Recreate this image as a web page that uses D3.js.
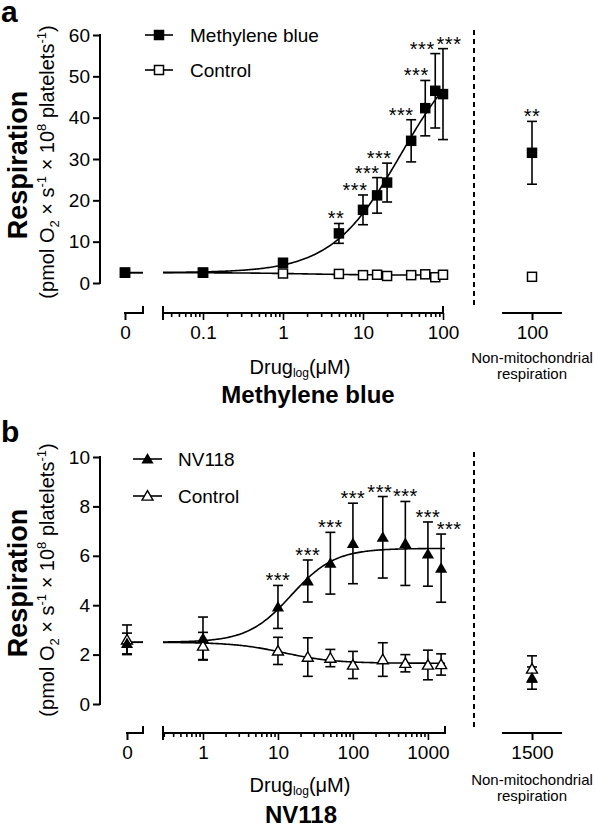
<!DOCTYPE html>
<html><head><meta charset="utf-8">
<script src="https://cdn.jsdelivr.net/npm/d3@7/dist/d3.min.js"></script>
<style>
body{margin:0;background:#fff}
svg{display:block}
text{font-family:"Liberation Sans",Arial,Helvetica,sans-serif;fill:#000}
</style>
</head><body><svg id="c" width="595" height="827"></svg>
<script>
// ---------------- DATA: panel a (Methylene blue) ----------------
const mbConc      = [0, 0.1, 1, 5, 10, 15, 20, 40, 60, 80, 100];
const mbMean      = [2.5, 2.5, 4.9, 12.0, 17.7, 21.2, 24.3, 34.4, 42.3, 46.5, 45.7];
const mbSem       = [0.4, 0.4, 0.6, 2.4, 3.6, 4.3, 4.7, 5.1, 6.7, 9.0, 11.0];
const mbStars     = ["", "", "", "**", "***", "***", "***", "***", "***", "***", "***"];
const mbCtrlMean  = [2.5, 2.5, 2.3, 2.2, 1.9, 2.0, 1.7, 1.9, 2.1, 1.4, 2.0];
const mbCtrlSem   = [0.3, 0.3, 0.3, 0.3, 0.3, 0.3, 0.3, 0.3, 0.3, 0.3, 0.3];
const mbNonMitoCat   = ["100"];
const mbNonMito      = [31.5];
const mbNonMitoSem   = [7.6];
const mbNonMitoStars = ["**"];
const mbNonMitoCtrl    = [1.5];
const mbNonMitoCtrlSem = [0.3];
const mbYTicks = [0, 10, 20, 30, 40, 50, 60];
const mbXTicks = [0.1, 1, 10, 100];
const mbFit     = [2.5, 60, 30, 1];     // low plateau, high plateau, EC50, Hill
const mbCtrlFit = [2.5, 1.9, 2, 1];

// ---------------- DATA: panel b (NV118) ----------------
const nvConc     = [0, 1, 10, 25, 50, 100, 250, 500, 1000, 1500];
const nvMean     = [2.45, 2.65, 3.93, 4.98, 5.7, 6.5, 6.75, 6.5, 6.07, 5.5];
const nvSem      = [0.42, 0.87, 0.87, 0.85, 1.25, 1.63, 1.65, 1.7, 1.3, 1.38];
const nvStars    = ["", "", "***", "***", "***", "***", "***", "***", "***", "***"];
const nvCtrlMean = [2.6, 2.35, 2.15, 1.9, 1.86, 1.58, 1.8, 1.65, 1.58, 1.6];
const nvCtrlSem  = [0.6, 0.55, 0.55, 0.78, 0.35, 0.55, 0.68, 0.35, 0.6, 0.43];
const nvNonMitoCat   = ["1500"];
const nvNonMito      = [1.05];
const nvNonMitoSem   = [0.45];
const nvNonMitoStars = [""];
const nvNonMitoCtrl    = [1.42];
const nvNonMitoCtrlSem = [0.53];
const nvYTicks = [0, 2, 4, 6, 8, 10];
const nvXTicks = [1, 10, 100, 1000];
const nvFit     = [2.5, 6.3, 15, 1.5];
const nvCtrlFit = [2.5, 1.65, 12, 1.3];

// ---------------- LAYOUT ----------------
const svg = d3.select("#c");
const FONT = '"Liberation Sans",Arial,Helvetica,sans-serif';

function hill(p, x) { return p[0] + (p[1] - p[0]) / (1 + Math.pow(p[2] / x, p[3])); }

function panel(cfg) {
  const g = svg.append("g");
  const y = d3.scaleLinear().domain(cfg.yDomain).range([cfg.yBottom, cfg.yTop]);
  const xLog = d3.scaleLog().domain(cfg.xDomain).range([cfg.logLeft, cfg.logRight]);
  const xZero = d3.scaleLinear().domain([0, 1]).range([cfg.zeroLeft, cfg.zeroRight]);
  const xNM = d3.scalePoint().domain(cfg.nmCat).range([cfg.nmLeft, cfg.nmRight]).padding(0.5);
  const xPos = c => c === 0 ? xZero(0) : xLog(c);

  // y axis
  const ya = g.append("g").attr("transform", `translate(${cfg.yAxisX},0)`)
    .call(d3.axisLeft(y).tickValues(cfg.yTicks).tickSize(7).tickSizeOuter(0).tickPadding(3));
  ya.select(".domain").attr("stroke-width", 2).attr("d", `M0,${y(cfg.yDomain[0])+1}V${y(cfg.yDomain[1])-1}`);
  ya.selectAll(".tick line").attr("stroke-width", 2);
  ya.selectAll(".tick text").style("font-family", FONT).style("font-size", "19px").attr("fill", "#000");

  // x axis: zero segment
  const axY = cfg.xAxisY;
  const za = g.append("g").attr("transform", `translate(0,${axY})`)
    .call(d3.axisBottom(xZero).tickValues([0]).tickFormat(() => "0").tickSize(7).tickSizeOuter(0).tickPadding(6));
  za.select(".domain").attr("stroke-width", 2).attr("d", `M${xZero(0)-1},0H${xZero(1)}`);
  za.selectAll(".tick line").attr("stroke-width", 2);
  g.append("line").attr("x1", xZero(1)).attr("x2", xZero(1)).attr("y1", axY - 7).attr("y2", axY + 1).attr("stroke", "#000").attr("stroke-width", 2);

  // x axis: log segment
  const minor = xLog.ticks().filter(t => t >= cfg.xDomain[0] && t <= cfg.xDomain[1]);
  const isMajor = t => cfg.xTicks.some(m => Math.abs(m - t) / m < 1e-6);
  const la = g.append("g").attr("transform", `translate(0,${axY})`)
    .call(d3.axisBottom(xLog).tickValues(minor).tickSize(7).tickSizeOuter(0).tickPadding(6)
      .tickFormat(t => isMajor(t) ? String(t) : ""));
  la.select(".domain").attr("stroke-width", 2).attr("d", `M${cfg.logLeft},0H${cfg.logRight}`);
  la.selectAll(".tick line").attr("stroke-width", 1.6).attr("y2", t => isMajor(t) ? 7 : 4);
  g.append("line").attr("x1", cfg.logLeft).attr("x2", cfg.logLeft).attr("y1", axY - 7).attr("y2", axY + 7).attr("stroke", "#000").attr("stroke-width", 2);
  g.append("line").attr("x1", cfg.logRight).attr("x2", cfg.logRight).attr("y1", axY - 7).attr("y2", axY + 1).attr("stroke", "#000").attr("stroke-width", 2);

  // x axis: non-mito segment
  const na = g.append("g").attr("transform", `translate(0,${axY})`)
    .call(d3.axisBottom(xNM).tickSize(7).tickSizeOuter(0).tickPadding(6));
  na.select(".domain").attr("stroke-width", 2).attr("d", `M${cfg.nmLeft},0H${cfg.nmRight}`);
  na.selectAll(".tick line").attr("stroke-width", 2);

  [za, la, na].forEach(a => a.selectAll(".tick text").style("font-family", FONT).style("font-size", "19px").attr("fill", "#000"));

  // dashed separator
  g.append("line").attr("x1", cfg.dashX).attr("x2", cfg.dashX).attr("y1", cfg.dashTop).attr("y2", cfg.dashBottom)
    .attr("stroke", "#000").attr("stroke-width", 2).attr("stroke-dasharray", "5,4");

  // fitted curves
  const l0 = Math.log10(cfg.xDomain[0]), l1 = Math.log10(cfg.xDomain[1]);
  const xs = d3.range(0, 201).map(i => Math.pow(10, l0 + i / 200 * (l1 - l0)));
  [cfg.fit, cfg.ctrlFit].forEach(p => {
    g.append("path").attr("fill", "none").attr("stroke", "#000").attr("stroke-width", 1.6)
      .attr("d", d3.line().x(d => xLog(d)).y(d => y(hill(p, d)))(xs));
    g.append("line").attr("x1", xZero(0)).attr("x2", xZero(1)).attr("y1", y(p[0])).attr("y2", y(p[0]))
      .attr("stroke", "#000").attr("stroke-width", 1.6);
  });

  function errBars(xf, means, sems) {
    means.forEach((m, i) => {
      const x = xf(i), e = sems[i];
      g.append("line").attr("x1", x).attr("x2", x).attr("y1", y(m + e)).attr("y2", y(m - e)).attr("stroke", "#000").attr("stroke-width", 1.6);
      [m + e, m - e].forEach(v => g.append("line").attr("x1", x - 5).attr("x2", x + 5).attr("y1", y(v)).attr("y2", y(v)).attr("stroke", "#000").attr("stroke-width", 1.6));
    });
  }
  function marker(x, yy, filled, shape) {
    if (shape === "square") {
      const s = filled ? 10.5 : 9;
      g.append("rect").attr("x", x - s / 2).attr("y", yy - s / 2).attr("width", s).attr("height", s)
        .attr("fill", filled ? "#000" : "#fff").attr("stroke", "#000").attr("stroke-width", filled ? 0 : 1.5);
    } else {
      const sym = d3.symbol().type(d3.symbolTriangle).size(filled ? 64 : 52);
      g.append("path").attr("d", sym()).attr("transform", `translate(${x},${yy + 1})`)
        .attr("fill", filled ? "#000" : "#fff").attr("stroke", "#000").attr("stroke-width", filled ? 0 : 1.4);
    }
  }

  const xi = conc => i => xPos(conc[i]);
  errBars(xi(cfg.conc), cfg.ctrlMean, cfg.ctrlSem);
  errBars(() => xNM(cfg.nmCat[0]), cfg.nmCtrl, cfg.nmCtrlSem);
  errBars(xi(cfg.conc), cfg.mean, cfg.sem);
  errBars(() => xNM(cfg.nmCat[0]), cfg.nm, cfg.nmSem);
  cfg.ctrlMean.forEach((m, i) => marker(xPos(cfg.conc[i]), y(m), false, cfg.shape));
  cfg.nmCtrl.forEach(m => marker(xNM(cfg.nmCat[0]), y(m), false, cfg.shape));
  cfg.mean.forEach((m, i) => marker(xPos(cfg.conc[i]), y(m), true, cfg.shape));
  cfg.nm.forEach(m => marker(xNM(cfg.nmCat[0]), y(m), true, cfg.shape));

  // significance stars
  function star(x, yTop, s) {
    g.append("text").attr("x", x).attr("y", yTop + 2)
      .attr("text-anchor", "middle").style("font-size", "20px").style("letter-spacing", "0.5px").text(s);
  }
  cfg.stars.forEach((s, i) => { if (s) star(xPos(cfg.conc[i]) + cfg.starShift[i], y(cfg.mean[i] + cfg.sem[i]), s); });
  cfg.nmStars.forEach((s, i) => { if (s) star(xNM(cfg.nmCat[i]), y(cfg.nm[i] + cfg.nmSem[i]), s); });

  // legend
  cfg.legend.forEach((L, i) => {
    const ly = cfg.legY[i];
    g.append("line").attr("x1", cfg.legX0).attr("x2", cfg.legX1).attr("y1", ly).attr("y2", ly).attr("stroke", "#000").attr("stroke-width", 1.6);
    marker((cfg.legX0 + cfg.legX1) / 2, ly, i === 0, cfg.shape);
    g.append("text").attr("x", cfg.legTextX).attr("y", ly + 7).style("font-size", "19px").text(L);
  });

  // y-axis titles
  const yMid = cfg.yTitleMid;
  g.append("text").attr("transform", `translate(${cfg.yTitleX1},${yMid + 3}) rotate(-90)`)
    .attr("text-anchor", "middle").style("font-size", "27px").style("font-weight", "bold").text("Respiration");
  const t2 = g.append("text").attr("transform", `translate(${cfg.yTitleX2},${yMid}) rotate(-90)`)
    .attr("text-anchor", "middle").style("font-size", "20px");
  t2.append("tspan").text("(pmol O");
  t2.append("tspan").attr("dy", 5).style("font-size", "13px").text("2");
  t2.append("tspan").attr("dy", -5).text(" \u00d7 s");
  t2.append("tspan").attr("dy", -8).style("font-size", "13px").text("-1");
  t2.append("tspan").attr("dy", 8).text(" \u00d7 10");
  t2.append("tspan").attr("dy", -8).style("font-size", "13px").text("8");
  t2.append("tspan").attr("dy", 8).text(" platelets");
  t2.append("tspan").attr("dy", -8).style("font-size", "13px").text("-1");
  t2.append("tspan").attr("dy", 8).text(")");

  // x titles
  const xt = g.append("text").attr("x", cfg.xTitleX).attr("y", cfg.xTitleY).attr("text-anchor", "middle").style("font-size", "20px");
  xt.append("tspan").text("Drug");
  xt.append("tspan").attr("dy", 3).style("font-size", "12px").text("log");
  xt.append("tspan").attr("dy", -3).text("(\u03bcM)");
  g.append("text").attr("x", cfg.titleX).attr("y", cfg.titleY).attr("text-anchor", "middle")
    .style("font-size", "24px").style("font-weight", "bold").text(cfg.title);
  g.append("text").attr("x", xNM(cfg.nmCat[0])).attr("y", cfg.nmTextY).attr("text-anchor", "middle").style("font-size", "15px").text("Non-mitochondrial");
  g.append("text").attr("x", xNM(cfg.nmCat[0])).attr("y", cfg.nmTextY + 16).attr("text-anchor", "middle").style("font-size", "15px").text("respiration");

  // panel letter
  g.append("text").attr("x", 1).attr("y", cfg.letterY).style("font-size", "30px").style("font-weight", "bold").text(cfg.letter);
}

panel({
  letter: "a", letterY: 22, title: "Methylene blue",
  conc: mbConc, mean: mbMean, sem: mbSem, stars: mbStars, ctrlMean: mbCtrlMean, ctrlSem: mbCtrlSem,
  nmCat: mbNonMitoCat, nm: mbNonMito, nmSem: mbNonMitoSem, nmStars: mbNonMitoStars, nmCtrl: mbNonMitoCtrl, nmCtrlSem: mbNonMitoCtrlSem,
  fit: mbFit, ctrlFit: mbCtrlFit, shape: "square",
  starShift: [0, 0, 0, -3, -8, -10, -8, -10, -9, -13, 6],
  yDomain: [0, 60], yTicks: mbYTicks, yBottom: 283, yTop: 35, yAxisX: 100,
  xDomain: [Math.pow(10, -1.5), 100], xTicks: mbXTicks, logLeft: 163, logRight: 443,
  zeroLeft: 125, zeroRight: 143, nmLeft: 502, nmRight: 562, xAxisY: 313,
  dashX: 474, dashTop: 30, dashBottom: 308,
  legend: ["Methylene blue", "Control"], legY: [35, 70], legX0: 145, legX1: 173, legTextX: 190,
  yTitleMid: 162, yTitleX1: 27, yTitleX2: 54,
  xTitleX: 300, xTitleY: 374, titleX: 308, titleY: 403, nmTextY: 363
});

panel({
  letter: "b", letterY: 442, title: "NV118",
  conc: nvConc, mean: nvMean, sem: nvSem, stars: nvStars, ctrlMean: nvCtrlMean, ctrlSem: nvCtrlSem,
  nmCat: nvNonMitoCat, nm: nvNonMito, nmSem: nvNonMitoSem, nmStars: nvNonMitoStars, nmCtrl: nvNonMitoCtrl, nmCtrlSem: nvNonMitoCtrlSem,
  fit: nvFit, ctrlFit: nvCtrlFit, shape: "triangle",
  starShift: [0, 0, 0, 0, 0, 0, -3, 0, 0, 8],
  yDomain: [0, 10], yTicks: nvYTicks, yBottom: 704, yTop: 457, yAxisX: 100,
  xDomain: [Math.pow(10, -40 / 75), 1690], xTicks: nvXTicks, logLeft: 163, logRight: 445,
  zeroLeft: 127, zeroRight: 143, nmLeft: 502, nmRight: 562, xAxisY: 733,
  dashX: 474, dashTop: 452, dashBottom: 730,
  legend: ["NV118", "Control"], legY: [459, 496], legX0: 133, legX1: 162, legTextX: 178,
  yTitleMid: 580, yTitleX1: 27, yTitleX2: 54,
  xTitleX: 300, xTitleY: 792, titleX: 301, titleY: 823, nmTextY: 785
});
</script>
</body></html>
